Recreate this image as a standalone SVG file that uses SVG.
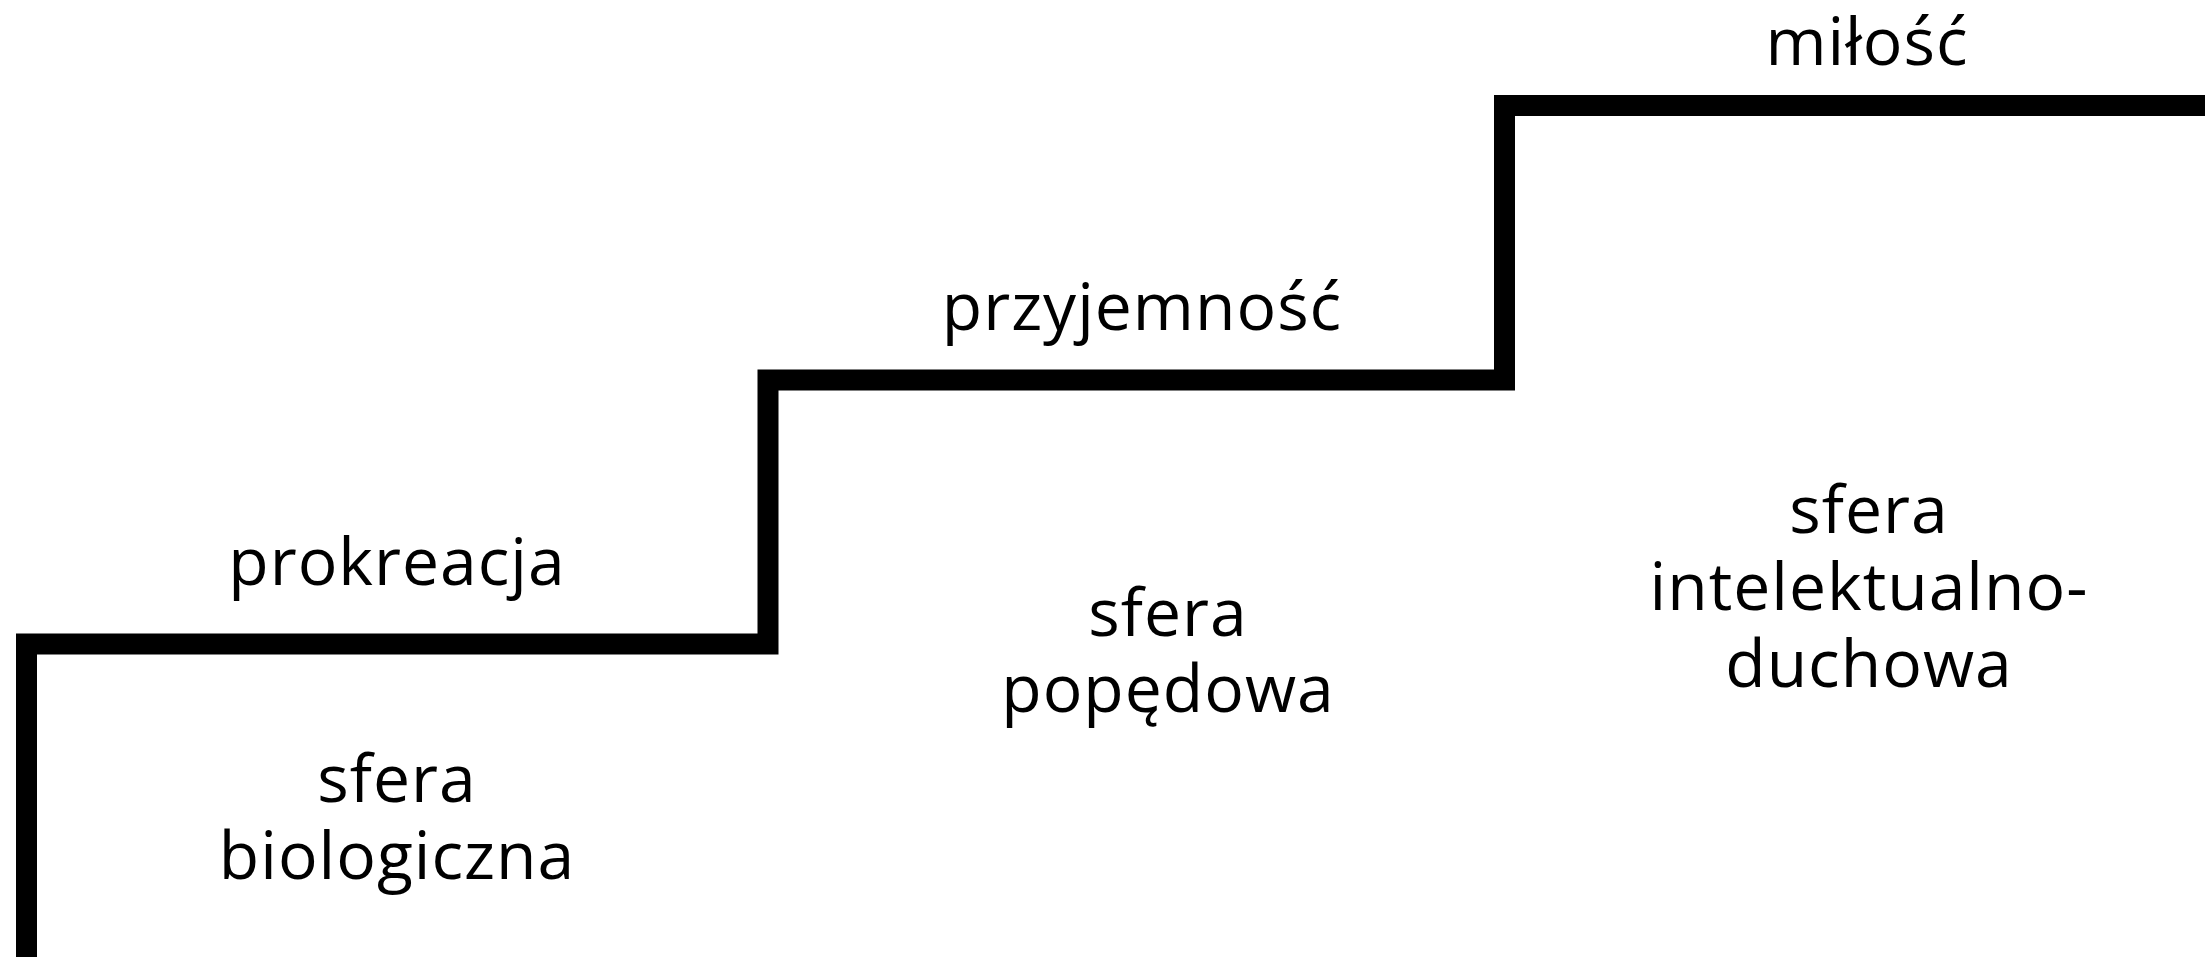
<svg xmlns="http://www.w3.org/2000/svg" width="2205" height="957" viewBox="0 0 2205 957">
<style>
.t{font-family:"Open Sans","Noto Sans","DejaVu Sans",sans-serif;font-size:66px;letter-spacing:1px;fill:#000;text-anchor:middle}
.stair{fill:none;stroke:#000;stroke-width:21;stroke-linejoin:miter}
</style>
<rect width="2205" height="957" fill="#fff"/>
<g id="connectors">
<path class="stair" d="M26.5 957 V644 H768 V380 H1504.5 V105.5 H2205"/>
</g>
<g id="step1">
<text class="t" x="397" y="585">prokreacja</text>
<text class="t" x="397" y="802">sfera</text>
<text class="t" x="397" y="879">biologiczna</text>
</g>
<g id="step2">
<text class="t" x="1142" y="330">przyjemność</text>
<text class="t" x="1168" y="636">sfera</text>
<text class="t" x="1168" y="712">popędowa</text>
</g>
<g id="step3">
<text class="t" x="1867" y="65">miłość</text>
<text class="t" x="1869" y="533">sfera</text>
<text class="t" x="1869" y="610">intelektualno-</text>
<text class="t" x="1869" y="687">duchowa</text>
</g>
</svg>
